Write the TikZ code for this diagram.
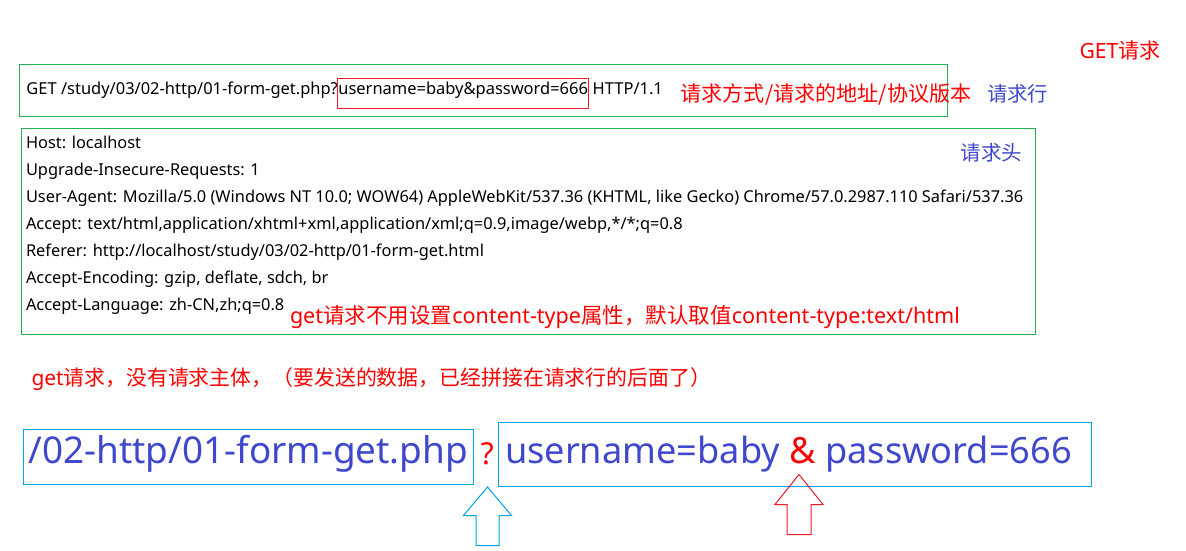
\documentclass[tikz,border=0pt]{standalone}
\usepackage{fontspec}
\setmainfont{Noto Sans}
\newfontfamily\cjk{Noto Sans CJK SC}
\definecolor{boxgreen}{RGB}{34,177,76}
\definecolor{boxred}{RGB}{237,28,36}
\definecolor{txtred}{RGB}{255,0,0}
\definecolor{txtblue}{RGB}{63,72,204}
\definecolor{boxblue}{RGB}{0,162,232}
\newlength\wtmp
\newcommand\fitsize[3]{\settowidth\wtmp{\fontsize{10}{12}\selectfont #3}\pgfmathsetmacro#1{10*#2/\wtmp}}
\newcommand\fsz[1]{\fontsize{#1}{#1}\selectfont}
\newcommand\rqA{GET /study/03/02-http/01-form-get.php?}
\newcommand\rqB{username=baby\&password=666}
\newcommand\uaLine{User-Agent: Mozilla/5.0 (Windows NT 10.0; WOW64) AppleWebKit/537.36 (KHTML, like Gecko) Chrome/57.0.2987.110 Safari/537.36}
\newcommand\redA{get{\cjk 请求不用设置}content-type{\cjk 属性，默认取值}content-type:text/html}
\newcommand\redB{get{\cjk 请求，没有请求主体，（要发送的数据，已经拼接在请求行的后面了）}}
\newcommand\btA{/02-http/01-form-get.php}
\newcommand\btB{username=baby {\color{txtred}\&} password=666}
\AtBeginDocument{%
\fitsize\rsz{635.4}{\rqA\rqB\ HTTP/1.1}%
\fitsize\hsz{997.3}{\uaLine}%
\fitsize\rasz{669.8}{\redA}%
\fitsize\rbsz{679.7}{\redB}%
\fitsize\basz{439.5}{\btA}%
\fitsize\bbsz{566.9}{\btB}%
\fitsize\lasz{291.2}{{\cjk 请求方式/请求的地址/协议版本}}%
\fitsize\lbsz{61}{{\cjk 请求行}}%
\fitsize\lcsz{81}{GET{\cjk 请求}}%
\fitsize\ldsz{61.5}{{\cjk 请求头}}%
\pgfmathsetmacro\qsz{0.82*\basz}%
}
\begin{document}
\begin{tikzpicture}[x=1pt,y=-1pt,
  every node/.style={inner sep=0pt, outer sep=0pt},
  hdline/.style={anchor=base west, font={\fsz{\hsz}}},
  frame/.style={line width=1pt, anchor=north west},
  lbl/.style={anchor=base west}]
\useasboundingbox (0,0) rectangle (1186,551);

% frames
\node[frame, draw=boxgreen, minimum width=928, minimum height=51.7] (rqbox) at (19,64.3) {};
\node[frame, draw=boxgreen, minimum width=1013.5, minimum height=205.5] (hdbox) at (21.7,128.7) {};

% request line
\node[lbl, font={\fsz{\rsz}}] (rqa) at (26.5,94) {\rqA};
\node[lbl, font={\fsz{\rsz}}, draw=boxred, line width=1pt, inner xsep=0.5pt, text height=15.7pt, text depth=14.3pt] (rqb) at (rqa.base east) {\rqB};
\node[lbl, font={\fsz{\rsz}}] (rqc) at (rqb.base east) {\ HTTP/1.1};

% header lines
\node[hdline] (h1) at (26,148) {Host: localhost};
\node[hdline] (h2) at (26,175) {Upgrade-Insecure-Requests: 1};
\node[hdline] (h3) at (26,202) {\uaLine};
\node[hdline] (h4) at (26,229) {Accept: text/html,application/xhtml+xml,application/xml;q=0.9,image/webp,*/*;q=0.8};
\node[hdline] (h5) at (26,256) {Referer: http://localhost/study/03/02-http/01-form-get.html};
\node[hdline] (h6) at (26,283) {Accept-Encoding: gzip, deflate, sdch, br};
\node[hdline] (h7) at (26,310) {Accept-Language: zh-CN,zh;q=0.8};

% labels
\node[lbl, text=txtred, font={\fsz{\lasz}\cjk}] (la) at (680.5,101) {请求方式/请求的地址/协议版本};
\node[lbl, text=txtblue, font={\fsz{\lbsz}\cjk}] (lb) at (987,101) {请求行};
\node[lbl, text=txtred, font={\fsz{\lcsz}}] (lc) at (1079.5,58.5) {GET{\cjk 请求}};
\node[lbl, text=txtblue, font={\fsz{\ldsz}\cjk}] (ld) at (960.5,160.5) {请求头};
\node[lbl, text=txtred, font={\fsz{\rasz}}] (ra) at (290,323) {\redA};
\node[lbl, text=txtred, font={\fsz{\rbsz}}] (rb) at (31.5,385) {\redB};

% bottom breakdown
\node[draw=boxblue, line width=1pt, anchor=base west, inner xsep=5pt, text height=33.7pt, text depth=21pt, text=txtblue, font={\fsz{\basz}}] (bta) at (23.5,463) {\btA};
\node[lbl, text=txtred, font={\fsz{\qsz}}] (q) at (480.5,464.5) {?};
\node[frame, draw=boxblue, minimum width=592.4, minimum height=63.3] (btbox) at (498.6,422.7) {};
\node[lbl, text=txtblue, font={\fsz{\bbsz}}] (btb) at (505,463) {\btB};

% hollow arrows
\draw[boxblue, line width=1pt] (487.5,487) -- (511.5,515.5) -- (499,515.5) -- (499,545.5) -- (476,545.5) -- (476,515.5) -- (463.5,515.5) -- cycle;
\draw[boxred, line width=1pt] (799,474.5) -- (823,504.5) -- (811,504.5) -- (811,534.5) -- (787,534.5) -- (787,504.5) -- (775,504.5) -- cycle;
\end{tikzpicture}
\end{document}
